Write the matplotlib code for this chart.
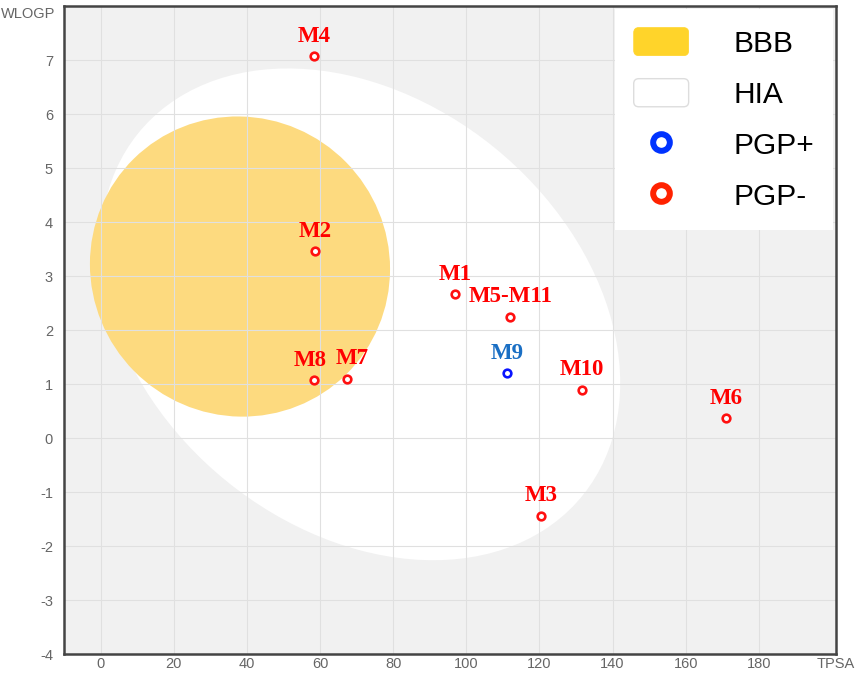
import matplotlib
matplotlib.use("Agg")
import matplotlib.pyplot as plt
from matplotlib.patches import Ellipse, Patch, FancyBboxPatch
from matplotlib.lines import Line2D
from matplotlib.legend_handler import HandlerPatch

plt.rcParams["axes.unicode_minus"] = False

# molecules
names = ["M1", "M2", "M3", "M4", "M5-M11", "M6", "M7", "M8", "M9", "M10"]
tpsa = [97.0, 58.6, 120.5, 58.4, 112.0, 171.0, 67.4, 58.4, 111.2, 131.5]
wlogp = [2.66, 3.46, -1.44, 7.07, 2.25, 0.37, 1.10, 1.07, 1.20, 0.90]
pgp = ["-", "-", "-", "-", "-", "-", "-", "-", "+", "-"]

# BOILED-Egg ellipses: (center x, center y, width, height, angle in deg)
hia = (71.051, 2.292, 142.081, 8.740, -1.031325)
bbb = (38.117, 3.177, 82.061, 5.557, -0.066)

x_ticks = [0, 20, 40, 60, 80, 100, 120, 140, 160, 180]
y_ticks = [-4, -3, -2, -1, 0, 1, 2, 3, 4, 5, 6, 7]

# small sideways nudges (points) so close labels don't collide
nudge = {"M8": -3, "M7": 4}


class RoundBox(HandlerPatch):
    def create_artists(self, legend, orig_handle, xdescent, ydescent,
                       width, height, fontsize, trans):
        p = FancyBboxPatch((-xdescent, -ydescent), width, height,
                           boxstyle="round,pad=0,rounding_size=%f" % (height * 0.18),
                           facecolor=orig_handle.get_facecolor(),
                           edgecolor=orig_handle.get_edgecolor(),
                           lw=orig_handle.get_linewidth(), transform=trans)
        return [p]


fig = plt.figure(figsize=(8.58, 6.73), dpi=100)
ax = fig.add_axes([0.0746, 0.028, 0.8994, 0.963])
ax.set_facecolor("#f1f1f1")

ax.add_patch(Ellipse(hia[:2], hia[2], hia[3], angle=hia[4],
                     facecolor="white", edgecolor="none", zorder=1))
ax.add_patch(Ellipse(bbb[:2], bbb[2], bbb[3], angle=bbb[4],
                     facecolor="#fdda7f", edgecolor="none", zorder=1.1))

for name, x, y, p in zip(names, tpsa, wlogp, pgp):
    edge = "#0a14ff" if p == "+" else "#ff1010"
    txt_col = "#1a6fc4" if p == "+" else "#ff0000"
    ax.plot(x, y, "o", ms=5.5, mfc="white", mec=edge, mew=1.9, zorder=5)
    ax.annotate(name, (x, y), xytext=(nudge.get(name, 0), 10.5),
                textcoords="offset points",
                ha="center", va="baseline", color=txt_col, fontsize=16.5,
                fontweight="bold", family="Liberation Serif", zorder=6)

ax.set_xlim(-10, 201)
ax.set_ylim(-4, 8)
ax.set_xticks(x_ticks)
ax.set_yticks(y_ticks)
ax.grid(True, color="#e0e0e0", lw=0.8)
ax.tick_params(length=0, labelsize=10.5, labelcolor="#666666",
               labelfontfamily="Liberation Sans")
ax.tick_params(axis="x", pad=2)
ax.tick_params(axis="y", pad=8)
for s in ax.spines.values():
    s.set_color("#444444")
    s.set_linewidth(1.8)

fig.text(0.064, 0.979, "WLOGP", ha="right", va="center", fontsize=10.5,
         color="#666666", family="Liberation Sans")
ax.annotate("TPSA", (1.0, 0.0), xycoords="axes fraction", xytext=(0, -2),
            textcoords="offset points", ha="center", va="top",
            fontsize=10.5, color="#666666", family="Liberation Sans")

handles = [
    Patch(facecolor="#ffd42a", edgecolor="#ffd42a", lw=0.5),
    Patch(facecolor="white", edgecolor="#dddddd", lw=1.0),
    Line2D([], [], ls="none", marker="o", ms=12, mfc="white", mec="#0033ff", mew=4.3),
    Line2D([], [], ls="none", marker="o", ms=12, mfc="white", mec="#ff2200", mew=4.3),
]
leg = ax.legend(handles, ["BBB", "HIA", "PGP+", "PGP-"], loc="upper right",
                prop={"family": "Liberation Sans", "size": 21.5},
                frameon=True, fancybox=False, framealpha=1, edgecolor="none",
                borderaxespad=0.1, handlelength=1.84, handleheight=1.07,
                handletextpad=1.5, labelspacing=0.7, borderpad=0.62,
                handler_map={Patch: RoundBox()})
leg.set_zorder(10)

fig.savefig("out.png", dpi=100)
